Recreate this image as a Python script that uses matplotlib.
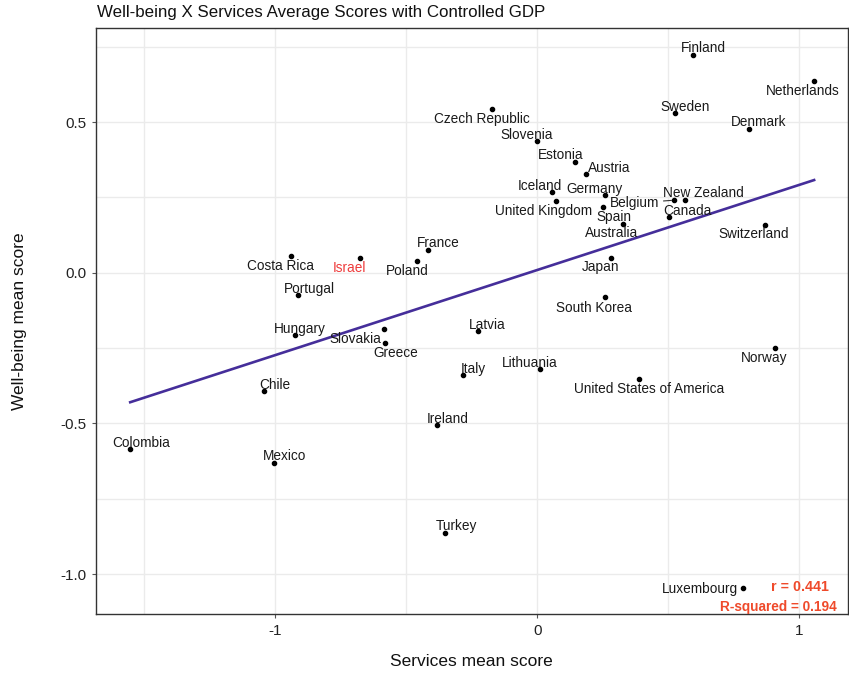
import matplotlib
matplotlib.use("Agg")
import matplotlib.pyplot as plt
import numpy as np

plt.rcParams['font.family'] = ['Liberation Sans', 'DejaVu Sans']

# country scores (services vs well-being, GDP controlled)
countries = ['Finland', 'Netherlands', 'Sweden', 'Denmark', 'Czech Republic',
             'Slovenia', 'Estonia', 'Austria', 'Iceland', 'Germany',
             'United Kingdom', 'Belgium', 'New Zealand', 'Spain', 'Canada',
             'Australia', 'Switzerland', 'Japan', 'France', 'Poland',
             'Costa Rica', 'Israel', 'Portugal', 'South Korea', 'Hungary',
             'Slovakia', 'Greece', 'Latvia', 'Norway', 'Lithuania', 'Italy',
             'United States of America', 'Chile', 'Ireland', 'Colombia',
             'Mexico', 'Turkey', 'Luxembourg']
services = [0.593, 1.057, 0.526, 0.807, -0.171,
            -0.001, 0.143, 0.187, 0.056, 0.259,
            0.073, 0.523, 0.564, 0.252, 0.503,
            0.328, 0.869, 0.281, -0.416, -0.458,
            -0.942, -0.677, -0.912, 0.257, -0.924,
            -0.587, -0.583, -0.228, 0.906, 0.011, -0.284,
            0.387, -1.045, -0.382, -1.554,
            -1.005, -0.352, 0.786]
wellbeing = [0.724, 0.635, 0.531, 0.477, 0.545,
             0.437, 0.369, 0.327, 0.267, 0.257,
             0.238, 0.241, 0.241, 0.219, 0.185,
             0.163, 0.158, 0.050, 0.077, 0.038,
             0.057, 0.048, -0.075, -0.081, -0.206,
             -0.186, -0.232, -0.193, -0.250, -0.319, -0.340,
             -0.353, -0.393, -0.506, -0.585,
             -0.630, -0.862, -1.045]
r_value = 0.441
r_squared = 0.194

# label offsets in pixels (dx, dy)
offsets = {
    'Finland': (10.6, 8), 'Netherlands': (-11.8, -8.7), 'Sweden': (10, 7.6),
    'Denmark': (10.1, 8.7), 'Czech Republic': (-10.6, -9), 'Slovenia': (-10.5, 7.4),
    'Estonia': (-13.9, 8.3), 'Austria': (23, 7.7), 'Iceland': (-11.7, 8),
    'Germany': (-10.8, 7.7), 'United Kingdom': (-12.8, -9), 'Belgium': (-39.6, -1.6),
    'New Zealand': (18.3, 8.4), 'Spain': (10.4, -9.2), 'Canada': (18, 7),
    'Australia': (-11.1, -8.2), 'Switzerland': (-10.8, -8), 'Japan': (-10.1, -8.4),
    'France': (10.3, 7.5), 'Poland': (-10.5, -8.7), 'Costa Rica': (-10, -8.7),
    'Israel': (-10.4, -8.3), 'Portugal': (10.7, 7.3), 'South Korea': (-10.7, -9.3),
    'Hungary': (5, 6.7), 'Slovakia': (-28, -8.6), 'Greece': (11, -9.4),
    'Latvia': (10.2, 7.4), 'Norway': (-10.5, -8.3), 'Lithuania': (-10.5, 7.7),
    'Italy': (10.5, 7.3), 'United States of America': (10.6, -8.3),
    'Chile': (11.2, 7.7), 'Ireland': (10.2, 7.7), 'Colombia': (10.6, 7.7),
    'Mexico': (10.5, 7.6), 'Turkey': (11, 8), 'Luxembourg': (-42.8, 0),
}

x = np.array(services)
y = np.array(wellbeing)

fig = plt.figure(figsize=(8.49, 6.73), dpi=100)
ax = fig.add_axes([0.1131, 0.0872, 0.8861, 0.8712])

# linear fit
slope, intercept = np.polyfit(x, y, 1)
xs = np.array([x.min(), x.max()])
ax.plot(xs, intercept + slope * xs, color='#452E9A', lw=1.9, zorder=2)

ax.scatter(x, y, s=9, color='black', zorder=3)

for name, xi, yi in zip(countries, x, y):
    dx, dy = offsets[name]
    col = '#EE3B3B' if name == 'Israel' else '#1a1a1a'
    arrow = None
    if name == 'Belgium':
        arrow = dict(arrowstyle='-', color='#333333', lw=0.8, shrinkA=1, shrinkB=2)
    ax.annotate(name, (xi, yi), xytext=(dx, dy - 1.3), textcoords='offset pixels',
                ha='center', va='center', fontsize=9.8, color=col,
                arrowprops=arrow, zorder=4)

ax.text(0.974, 0.047, 'r = %.3f' % r_value, transform=ax.transAxes,
        ha='right', va='center', fontsize=10.3, fontweight='bold', color='#EF4A2B')
ax.text(0.985, 0.013, 'R-squared = %.3f' % r_squared, transform=ax.transAxes,
        ha='right', va='center', fontsize=9.8, fontweight='bold', color='#EF4A2B')

ax.margins(0.05)
ax.set_xticks([-1, 0, 1])
ax.set_xticklabels(['-1', '0', '1'])
ax.set_yticks([-1.0, -0.5, 0.0, 0.5])
ax.set_yticklabels(['-1.0', '-0.5', '0.0', '0.5'])
ax.set_xticks([-1.5, -0.5, 0.5], minor=True)
ax.set_yticks([-0.75, -0.25, 0.25, 0.75], minor=True)
ax.grid(True, which='both', color='#ebebeb', lw=1.0, zorder=0)
ax.set_axisbelow(True)
ax.tick_params(which='major', length=3, color='#555555', labelsize=11,
               labelcolor='#222222', pad=4)
ax.tick_params(which='minor', length=0)
for s in ax.spines.values():
    s.set_color('#333333')
    s.set_linewidth(1.0)

fig.text(97 / 849, 1 - 13 / 673, 'Well-being X Services Average Scores with Controlled GDP',
         ha='left', va='center', fontsize=12.2, color='#111111')
fig.text(471.5 / 849, 1 - 661 / 673, 'Services mean score',
         ha='center', va='center', fontsize=12.5, color='#111111')
fig.text(20 / 849, 1 - 321 / 673, 'Well-being mean score', rotation=90,
         ha='center', va='center', fontsize=12.5, color='#111111')

fig.savefig('out.png', dpi=100)
